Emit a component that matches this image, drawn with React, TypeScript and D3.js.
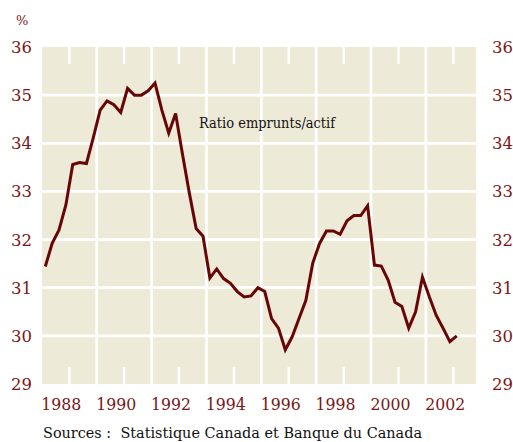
import React from "react";
import * as d3 from "d3";

// Quarterly data, 1987Q1 .. 2002Q1
const startYear = 1987;
const ratioValues: number[] = [
  31.44, 31.92, 32.2, 32.72, 33.56, 33.6, 33.58, 34.12, 34.69, 34.88,
  34.8, 34.64, 35.14, 35.0, 35.0, 35.09, 35.25, 34.69, 34.21, 34.62,
  33.78, 32.97, 32.23, 32.07, 31.2, 31.39, 31.19, 31.09, 30.92, 30.81,
  30.83, 31.0, 30.92, 30.36, 30.16, 29.71, 29.98, 30.36, 30.74, 31.51,
  31.92, 32.18, 32.18, 32.11, 32.39, 32.5, 32.5, 32.7, 31.47, 31.45,
  31.16, 30.7, 30.61, 30.16, 30.5, 31.22, 30.81, 30.43, 30.16, 29.88,
  30.0,
];
const yTicks: number[] = [29, 30, 31, 32, 33, 34, 35, 36];
const yearLabels: number[] = [1988, 1990, 1992, 1994, 1996, 1998, 2000, 2002];
const gridYears: number[] = [1989, 1991, 1993, 1995, 1997, 1999, 2001];
const seriesLabel = "Ratio emprunts/actif";
const sourceText = "Sources :  Statistique Canada et Banque du Canada";

const W = 513;
const H = 442;
const plot = { left: 42, right: 476, top: 47, bottom: 384 };
const RED = "#7a1616";
const LINE = "#670606";
const BG = "#eeead8";
const FONT = "'DejaVu Serif', 'Liberation Serif', 'Times New Roman', Times, serif";

export default function App() {
  const x = d3.scaleLinear().domain([1988, 2002]).range([69.3, 453.3]);
  const y = d3.scaleLinear().domain([29, 36]).range([plot.bottom, plot.top]);
  const pts = ratioValues.map((v, i) => ({ t: startYear + 0.125 + i * 0.25, v }));
  const line = d3
    .line<{ t: number; v: number }>()
    .x((d) => x(d.t))
    .y((d) => y(d.v))
    .curve(d3.curveLinear);
  const tf = { fontFamily: FONT };

  return (
    <svg
      width={W}
      height={H}
      style={{ position: "absolute", left: 0, top: 0, background: "#fff" }}
    >
      <rect
        x={plot.left}
        y={plot.top}
        width={plot.right - plot.left}
        height={plot.bottom - plot.top}
        fill={BG}
      />
      {yTicks
        .filter((t) => t > 29 && t < 36)
        .map((t) => (
          <line
            key={"h" + t}
            x1={plot.left}
            x2={plot.right}
            y1={y(t)}
            y2={y(t)}
            stroke="#fff"
            strokeWidth={2.7}
          />
        ))}
      {gridYears.map((yr) => (
        <line
          key={"v" + yr}
          x1={x(yr)}
          x2={x(yr)}
          y1={plot.top}
          y2={plot.bottom}
          stroke="#fff"
          strokeWidth={2.7}
        />
      ))}
      {yearLabels.map((yr) => (
        <g key={"t" + yr}>
          <line x1={x(yr)} x2={x(yr)} y1={plot.top} y2={plot.top + 17} stroke="#fff" strokeWidth={2.5} />
          <line x1={x(yr)} x2={x(yr)} y1={plot.bottom - 17} y2={plot.bottom} stroke="#fff" strokeWidth={2.5} />
          <text x={x(yr) - 8} y={410} textAnchor="middle" fontSize={16.5} fill={RED} style={tf} textLength={40} lengthAdjust="spacingAndGlyphs">
            {yr}
          </text>
        </g>
      ))}
      {yTicks.map((t) => (
        <g key={"y" + t}>
          <text x={32} y={y(t)} dy="0.36em" textAnchor="end" fontSize={16.5} fill={RED} style={tf}>
            {t}
          </text>
          <text x={492} y={y(t)} dy="0.36em" textAnchor="start" fontSize={16.5} fill={RED} style={tf}>
            {t}
          </text>
        </g>
      ))}
      <text x={16} y={25} fontSize={13} fill={RED} style={tf}>
        %
      </text>
      <path d={line(pts) || ""} fill="none" stroke={LINE} strokeWidth={3} strokeLinejoin="miter" />
      <text x={199} y={127.5} fontSize={14.8} fill="#111" style={tf} textLength={136} lengthAdjust="spacingAndGlyphs">
        {seriesLabel}
      </text>
      <text x={43} y={438} fontSize={15.5} fill="#111" style={{ ...tf, whiteSpace: "pre" }} textLength={379} lengthAdjust="spacingAndGlyphs">
        {sourceText}
      </text>
    </svg>
  );
}
